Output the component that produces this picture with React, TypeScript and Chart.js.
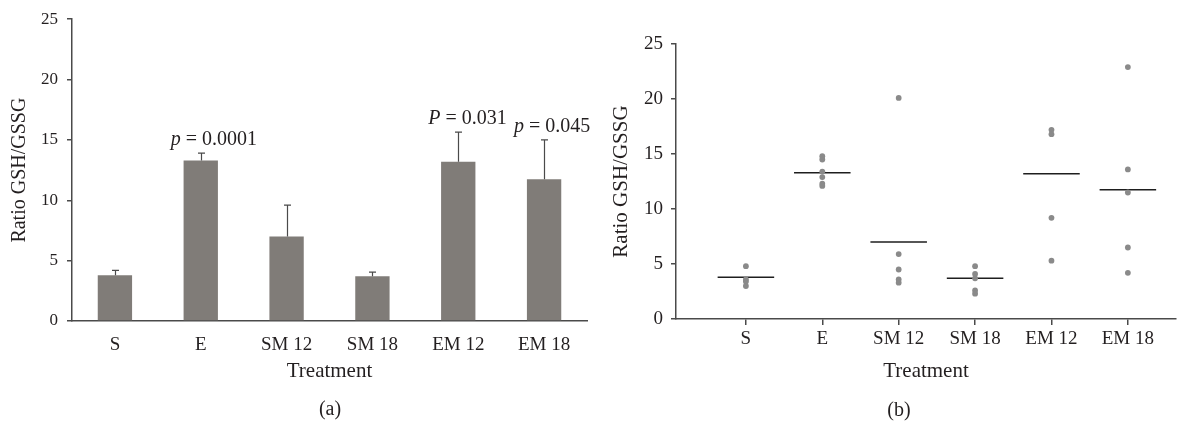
import React, { useEffect, useRef } from "react";
import { Chart, registerables } from "chart.js";

Chart.register(...registerables);

// Treatment groups
const CATEGORIES = ["S", "E", "SM 12", "SM 18", "EM 12", "EM 18"];

// Group means and standard errors of the GSH/GSSG ratio
const MEAN_RATIO = [3.8, 13.3, 7.0, 3.7, 13.2, 11.75];
const SEM_RATIO = [0.4, 0.6, 2.6, 0.35, 2.45, 3.25];

// Significance annotations (symbol, value) per group
const P_SYMBOL = [null, "p", null, null, "P", "p"];
const P_VALUE = [null, "0.0001", null, null, "0.031", "0.045"];

// Individual measurements per group
const S_POINTS = [4.8, 3.6, 3.4, 3.0];
const E_POINTS = [14.8, 14.5, 13.4, 12.9, 12.3, 12.1];
const SM12_POINTS = [20.1, 5.9, 4.5, 3.6, 3.3];
const SM18_POINTS = [4.8, 4.1, 3.7, 2.6, 2.3];
const EM12_POINTS = [17.2, 16.8, 9.2, 5.3];
const EM18_POINTS = [22.9, 13.6, 11.5, 6.5, 4.2];
const GROUP_POINTS = [S_POINTS, E_POINTS, SM12_POINTS, SM18_POINTS, EM12_POINTS, EM18_POINTS];

// Y-axis ticks
const Y_TICKS = [0, 5, 10, 15, 20, 25];

const SERIF = "'Liberation Serif', 'Times New Roman', serif";
const TEXT = "#231f20";
const AXIS = "#4a4a4a";
const BAR = "#807c78";
const DOT = "#8a8a8a";

const errorBarPlugin = {
  id: "errorBars",
  afterDatasetsDraw(chart: any) {
    const ctx = chart.ctx;
    const meta = chart.getDatasetMeta(0);
    const yScale = chart.scales.y;
    ctx.save();
    ctx.strokeStyle = AXIS;
    ctx.lineWidth = 1.2;
    meta.data.forEach((bar: any, i: number) => {
      const x = Math.round(bar.x) + 0.5;
      const yTop = yScale.getPixelForValue(MEAN_RATIO[i] + SEM_RATIO[i]);
      ctx.beginPath();
      ctx.moveTo(x, bar.y);
      ctx.lineTo(x, yTop);
      ctx.moveTo(x - 3.5, yTop);
      ctx.lineTo(x + 3.5, yTop);
      ctx.stroke();

      if (P_SYMBOL[i]) {
        const baseY = yTop - 8;
        let tx = bar.x - 30;
        ctx.fillStyle = TEXT;
        ctx.textBaseline = "alphabetic";
        ctx.textAlign = "left";
        ctx.font = `italic 20px ${SERIF}`;
        ctx.fillText(P_SYMBOL[i], tx, baseY);
        tx += ctx.measureText(P_SYMBOL[i]).width;
        ctx.font = `20px ${SERIF}`;
        ctx.fillText(` = ${P_VALUE[i]}`, tx, baseY);
      }
    });
    ctx.restore();
  },
};

function makeYAxis(width: number, fontSize: number, titleSize: number, titlePad: number, labelPad: number) {
  return {
    min: 0,
    max: 25,
    afterFit(scale: any) {
      scale.width = width;
    },
    afterBuildTicks(scale: any) {
      scale.ticks = Y_TICKS.map((v) => ({ value: v }));
    },
    ticks: {
      color: TEXT,
      padding: labelPad,
      font: { family: SERIF, size: fontSize },
    },
    grid: {
      drawOnChartArea: false,
      drawTicks: true,
      tickLength: 5,
      color: AXIS,
      lineWidth: 1.5,
    },
    border: { color: AXIS, width: 1.5 },
    title: {
      display: true,
      text: "Ratio GSH/GSSG",
      color: TEXT,
      font: { family: SERIF, size: titleSize },
      padding: { top: titlePad, bottom: 0 },
    },
  };
}

function BarPanel() {
  const ref = useRef<HTMLCanvasElement | null>(null);
  useEffect(() => {
    if (!ref.current) return;
    const chart = new Chart(ref.current, {
      type: "bar",
      data: {
        labels: CATEGORIES,
        datasets: [
          {
            data: MEAN_RATIO,
            backgroundColor: BAR,
            borderWidth: 0,
            barPercentage: 0.4,
            categoryPercentage: 1,
          },
        ],
      },
      options: {
        responsive: false,
        animation: false,
        layout: { padding: { top: 17, right: 13, left: 0, bottom: 0 } },
        plugins: { legend: { display: false }, tooltip: { enabled: false } },
        scales: {
          x: {
            offset: true,
            afterFit(scale: any) {
              scale.height = 103;
            },
            ticks: {
              color: TEXT,
              padding: 5,
              maxRotation: 0,
              font: { family: SERIF, size: 19 },
            },
            grid: { display: false },
            border: { color: AXIS, width: 1.5 },
            title: {
              display: true,
              text: "Treatment",
              color: TEXT,
              font: { family: SERIF, size: 21 },
              padding: { top: 0, bottom: 40 },
            },
          },
          y: makeYAxis(72, 17, 20, 8, 9),
        },
      },
      plugins: [errorBarPlugin],
    } as any);
    return () => chart.destroy();
  }, []);
  return <canvas ref={ref} width={600} height={424} />;
}

function DotPanel() {
  const ref = useRef<HTMLCanvasElement | null>(null);
  useEffect(() => {
    if (!ref.current) return;
    const points = GROUP_POINTS.flatMap((vals, i) => vals.map((v) => ({ x: i, y: v })));
    const meanLines = MEAN_RATIO.map((m, i) => ({
      type: "line",
      data: [
        { x: i - 0.37, y: m },
        { x: i + 0.37, y: m },
      ],
      borderColor: "#1e1e1e",
      borderWidth: 1.6,
      pointRadius: 0,
      showLine: true,
    }));
    const chart = new Chart(ref.current, {
      type: "scatter",
      data: {
        datasets: [
          {
            data: points,
            backgroundColor: DOT,
            borderWidth: 0,
            pointRadius: 2.9,
          },
          ...meanLines,
        ],
      },
      options: {
        responsive: false,
        animation: false,
        layout: { padding: { top: 44, right: 2, left: 0, bottom: 0 } },
        plugins: { legend: { display: false }, tooltip: { enabled: false } },
        scales: {
          x: {
            type: "linear",
            min: -0.915,
            max: 5.63,
            afterFit(scale: any) {
              scale.height = 105;
            },
            afterBuildTicks(scale: any) {
              scale.ticks = CATEGORIES.map((_, i) => ({ value: i }));
            },
            ticks: {
              color: TEXT,
              padding: 3,
              maxRotation: 0,
              autoSkip: false,
              font: { family: SERIF, size: 19 },
              callback: (v: number) => CATEGORIES[v] ?? "",
            },
            grid: {
              drawOnChartArea: false,
              drawTicks: true,
              tickLength: 6,
              color: AXIS,
              lineWidth: 1.5,
            },
            border: { color: AXIS, width: 1.5 },
            title: {
              display: true,
              text: "Treatment",
              color: TEXT,
              font: { family: SERIF, size: 21 },
              padding: { top: 0, bottom: 40 },
            },
          },
          y: makeYAxis(76, 19, 21, 9, 8),
        },
      },
    } as any);
    return () => chart.destroy();
  }, []);
  return <canvas ref={ref} width={580} height={424} />;
}

const captionStyle: React.CSSProperties = {
  position: "absolute",
  width: 80,
  textAlign: "center",
  fontFamily: SERIF,
  fontSize: 20,
  lineHeight: "24px",
  color: TEXT,
};

export default function App() {
  return (
    <div style={{ position: "fixed", left: 0, top: 0, width: 1180, height: 424, background: "#fff" }}>
      <div style={{ position: "absolute", left: 0, top: 0 }}>
        <BarPanel />
      </div>
      <div style={{ position: "absolute", left: 600, top: 0 }}>
        <DotPanel />
      </div>
      <div style={{ ...captionStyle, left: 290, top: 396 }}>(a)</div>
      <div style={{ ...captionStyle, left: 859, top: 397 }}>(b)</div>
    </div>
  );
}
